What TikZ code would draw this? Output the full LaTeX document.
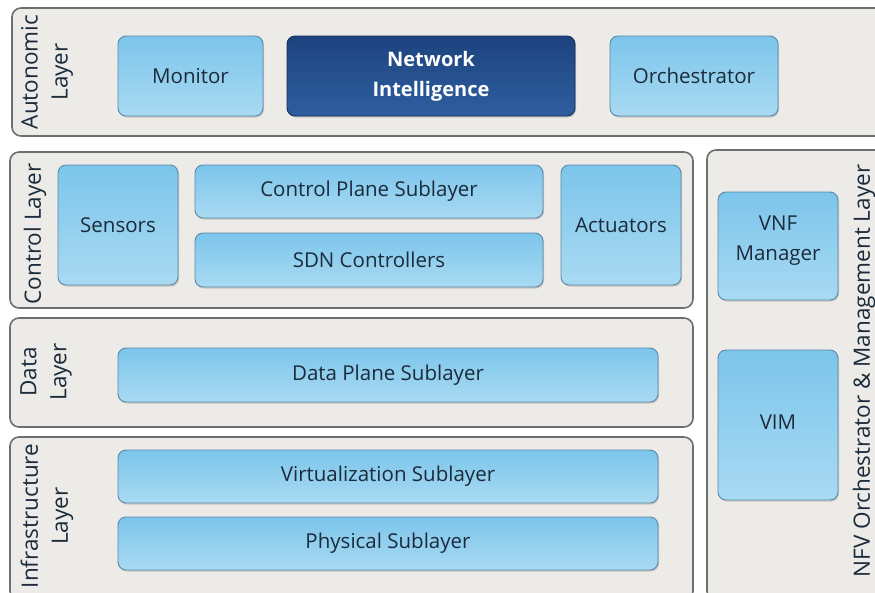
\documentclass[tikz,border=0pt]{standalone}
\usepackage{fontspec}
\setmainfont{Open Sans}
\usetikzlibrary{shadows}
\definecolor{layerfill}{HTML}{ECEBE7}
\definecolor{layerline}{HTML}{6E6E6E}
\definecolor{boxtop}{HTML}{7CC5EB}
\definecolor{boxbot}{HTML}{A9DAF2}
\definecolor{boxline}{HTML}{5B88A6}
\definecolor{nitop}{HTML}{1D437F}
\definecolor{nibot}{HTML}{2E5E9F}
\definecolor{txt}{HTML}{1B2B3B}
\tikzset{
  layer/.style={draw=layerline, line width=1.6pt, fill=layerfill, rounded corners=9pt},
  blockbox/.style={draw=boxline, line width=0.9pt, rounded corners=8pt,
    top color=boxtop, bottom color=boxbot,
    drop shadow={shadow xshift=1pt, shadow yshift=-1.5pt, opacity=0.35}},
  nibox/.style={draw=nitop!70!black, line width=0.9pt, rounded corners=8pt,
    top color=nitop, bottom color=nibot,
    drop shadow={shadow xshift=1pt, shadow yshift=-1.5pt, opacity=0.35}},
  boxtext/.style={text=txt, font=\fontsize{20.5}{30}\selectfont, align=center},
  sidetext/.style={text=txt, font=\fontsize{22.5}{30}\selectfont, align=center, rotate=90},
}
\begin{document}
\begin{tikzpicture}[x=1pt,y=-1pt]
\useasboundingbox (0,0) rectangle (875,592);
\clip (0,0) rectangle (875,592);
\fill[white] (0,0) rectangle (875,592);

% outer layer frames
\draw[layer] (12,8) rectangle (900,136);
\draw[layer] (10,152) rectangle (693,308);
\draw[layer] (10,318) rectangle (693,427);
\draw[layer] (10,437) rectangle (693,600);
\draw[layer] (707,150) rectangle (900,600);

% layer captions
\node[sidetext] (lauto) at (47,72) {Autonomic\\Layer};
\node[sidetext] (lctrl) at (35,234) {Control Layer};
\node[sidetext] (ldata) at (46,372) {Data\\Layer};
\node[sidetext] (linfr) at (47,516) {Infrastructure\\Layer};
\node[sidetext] (lnfv) at (864,371) {NFV Orchestrator \& Management Layer};

% autonomic layer
\draw[blockbox] (118,36) rectangle (263,116);
\node[boxtext] (monitor) at (190.5,76) {Monitor};
\draw[nibox] (287,36) rectangle (575,116);
\node[boxtext, text=white, font=\fontsize{20}{30}\selectfont\bfseries] (ni) at (431,76) {Network\\Intelligence};
\draw[blockbox] (610,36) rectangle (778,116);
\node[boxtext] (orch) at (694,76) {Orchestrator};

% control layer
\draw[blockbox] (58,165) rectangle (178,285);
\node[boxtext] (sensors) at (118,225) {Sensors};
\draw[blockbox] (195,165) rectangle (543,218);
\node[boxtext] (cps) at (369,191.5) {Control Plane Sublayer};
\draw[blockbox] (195,233) rectangle (543,287);
\node[boxtext] (sdn) at (369,260) {SDN Controllers};
\draw[blockbox] (561,165) rectangle (681,285);
\node[boxtext] (act) at (621,225) {Actuators};

% data layer
\draw[blockbox] (118,348) rectangle (658,402);
\node[boxtext] (dps) at (388,375) {Data Plane Sublayer};

% infrastructure layer
\draw[blockbox] (118,450) rectangle (658,503);
\node[boxtext] (virt) at (388,476.5) {Virtualization Sublayer};
\draw[blockbox] (118,517) rectangle (658,570);
\node[boxtext] (phys) at (388,543.5) {Physical Sublayer};

% NFV management
\draw[blockbox] (718,192) rectangle (838,300);
\node[boxtext] (vnfm) at (778,241) {VNF\\Manager};
\draw[blockbox] (718,350) rectangle (838,500);
\node[boxtext] (vim) at (778,422) {VIM};
\end{tikzpicture}
\end{document}
